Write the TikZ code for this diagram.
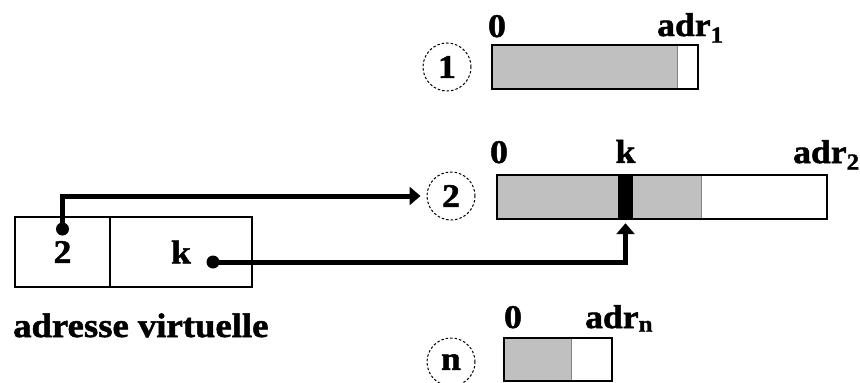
\documentclass[tikz,border=0pt]{standalone}
\usepackage{fontspec}
\setmainfont{Liberation Serif}
\newfontfamily\figfont[FakeStretch=1.08, FakeBold=1.5]{Liberation Serif}
\usetikzlibrary{arrows.meta, positioning, calc}
\definecolor{SegInk}{HTML}{000000}
\definecolor{SegUsed}{HTML}{C0C0C0}
\definecolor{SegEdge}{HTML}{808080}

\begin{document}
\begin{tikzpicture}[
    x=1pt, y=-1pt,
    font=\figfont\bfseries\fontsize{33}{33}\selectfont,
    seg/.style={
      draw=SegInk,
      line width=1.8pt,
      inner sep=0pt,
      outer sep=0pt,
      minimum height=44pt,
      path picture={
        \fill[SegUsed] (path picture bounding box.south west)
          rectangle ([xshift=#1]path picture bounding box.north west);
        \draw[SegEdge, line width=1pt] ([xshift=#1]path picture bounding box.south west)
          -- ([xshift=#1]path picture bounding box.north west);
      },
    },
    cell/.style={
      draw=SegInk,
      line width=1.8pt,
      inner sep=0pt,
      outer sep=0pt,
      minimum height=70pt,
    },
    segno/.style={
      circle,
      draw=SegInk,
      dash pattern=on 2.5pt off 2pt,
      line width=1pt,
      minimum size=48pt,
      inner sep=0pt,
    },
    lbl/.style={inner sep=0pt},
    dot/.style={circle, fill=SegInk, inner sep=0pt, minimum size=13pt},
    link/.style={
      line width=5pt,
      draw=SegInk,
      -{Triangle[length=11pt, width=18pt]},
    },
  ]
    \useasboundingbox (0,0) rectangle (860,383);

    \node[cell, minimum width=95pt] (vpage) at (62.5,252) {2};
    \node[cell, minimum width=142pt, right=0pt of vpage] (voff) {k};
    \node[
      font=\figfont\bfseries\fontsize{34}{34}\selectfont,
      anchor=base west,
      inner sep=0pt,
    ] (vlabel) at ([shift={(-2pt,-50pt)}]vpage.south west) {adresse virtuelle};

    \node[segno] (no1) at (447,67) {1};
    \node[segno] (no2) at (451,196) {2};
    \node[segno] (non) at (451,362) {n};

    \node[seg=185pt, minimum width=206pt] (seg1) at (595,67) {};
    \node[seg=204pt, minimum width=330pt] (seg2) at (662,197) {};
    \node[seg=67pt, minimum width=108pt, minimum height=43pt] (segn) at (558,359.5) {};
    \node[fill=SegInk, inner sep=0pt, minimum width=15pt, minimum height=44pt] (kbar) at (625.5,197) {};

    \node[lbl, anchor=base] at ([shift={(5pt,8pt)}]seg1.north west) {0};
    \node[lbl, anchor=base west] at ([shift={(-41pt,9pt)}]seg1.north east) {adr\textsubscript{1}};
    \node[lbl, anchor=base] at ([shift={(2pt,12pt)}]seg2.north west) {0};
    \node[lbl, anchor=base] at ([yshift=12pt]kbar.north) {k};
    \node[lbl, anchor=base west] at ([shift={(-34pt,12pt)}]seg2.north east) {adr\textsubscript{2}};
    \node[lbl, anchor=base] at ([shift={(9pt,10pt)}]segn.north west) {0};
    \node[lbl, anchor=base west] at ([shift={(-27pt,10pt)}]segn.north east) {adr\textsubscript{n}};

    \node[dot] (pagedot) at ([yshift=-12pt]vpage.north) {};
    \node[dot] (offdot) at ([shift={(32pt,-10pt)}]voff.center) {};

    \draw[link, shorten >=6pt] (pagedot.center) |- (no2.west);
    \draw[link, shorten >=4pt] (offdot.center) -| (kbar.south);
  \end{tikzpicture}
\end{document}
